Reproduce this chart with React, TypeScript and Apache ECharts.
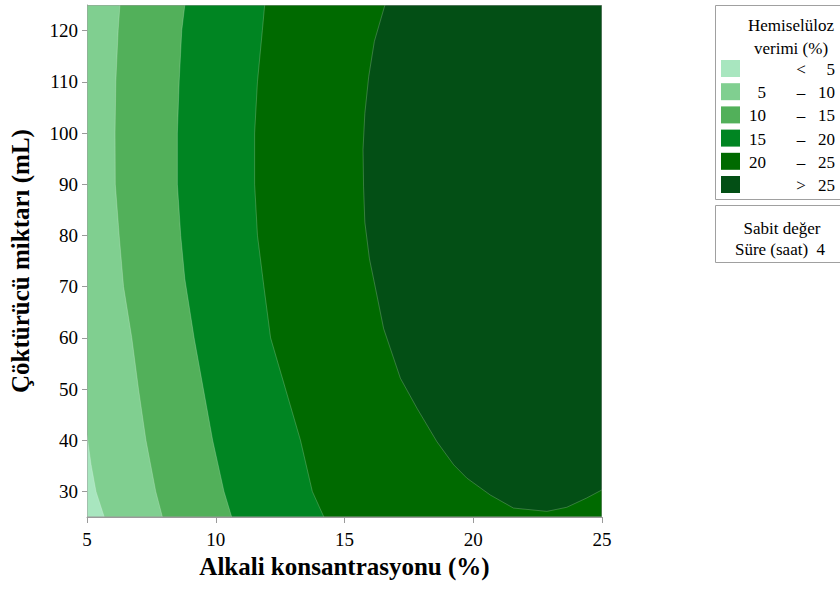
import React, { useEffect, useRef } from "react";
import * as echarts from "echarts";

const FONT = "Liberation Serif";

// axis ranges
const xMin = 5, xMax = 25, yMin = 25, yMax = 125;
const xTicks = [5, 10, 15, 20, 25];
const yTicks = [30, 40, 50, 60, 70, 80, 90, 100, 110, 120];

// contour levels and band colours (lowest band first)
const levelBounds = [5, 10, 15, 20, 25];
const bandColors = ["#a8e6bf", "#80cf90", "#52b05a", "#008522", "#006a00", "#034f15"];

// contour boundaries: [alkali %, çöktürücü mL]
const contour5 = [[5, 41.0], [5.16, 35.2], [5.35, 30], [5.67, 25]];
const contour10 = [[6.28, 125], [6.21, 120], [6.12, 110], [6.09, 100], [6.10, 90], [6.25, 80], [6.42, 70], [6.74, 60], [7.0, 50], [7.29, 40], [7.67, 30], [7.93, 25]];
const contour15 = [[8.80, 125], [8.68, 120], [8.58, 110], [8.51, 100], [8.51, 90], [8.64, 80], [8.80, 71.5], [9.16, 60], [9.52, 50], [9.88, 40], [10.32, 30], [10.62, 25]];
const contour20 = [[11.9, 125], [11.81, 120], [11.62, 110], [11.51, 100], [11.51, 90], [11.62, 80], [11.87, 70], [12.13, 60], [12.71, 50], [13.29, 40], [13.75, 30], [14.2, 25]];
const contour25 = [[16.57, 125], [16.16, 117.9], [15.94, 111], [15.79, 103.8], [15.72, 96.8], [15.74, 89.6], [15.79, 82.6], [15.97, 75.4], [16.15, 71], [16.52, 61.8], [17.17, 52.1], [17.82, 46.2], [18.59, 39.7], [19.24, 35.2], [19.75, 32.6], [20.66, 29.3], [21.56, 26.75], [22.86, 26.1], [23.63, 26.9], [24.4, 28.7], [25, 30.3]];
const contours = [contour5, contour10, contour15, contour20, contour25];

// legend texts
const legendTitle = ["Hemiselüloz", "verimi (%)"];
const holdTitle = "Sabit değer";
const holdFactor = "Süre (saat)";
const holdValue = "4";

function closePolygon(pts: number[][]) {
  const out = pts.slice();
  const first = pts[0];
  const last = pts[pts.length - 1];
  if (last[1] === yMin) out.push([xMax, yMin]);
  out.push([xMax, yMax]);
  if (first[0] === xMin) out.push([xMin, yMax]);
  return out;
}

function txt(x: number, y: number, text: string, align: string) {
  return { type: "text", x, y, style: { text, fontSize: 17, fontFamily: FONT, fill: "#000", align, verticalAlign: "middle" } };
}

function legendGraphics() {
  const els: any[] = [];
  els.push({ type: "rect", shape: { x: 715.5, y: 5.5, width: 160, height: 194 }, style: { fill: "#fff", stroke: "#a0a0a0", lineWidth: 1 } });
  legendTitle.forEach((t, i) => els.push(txt(791, 25 + i * 23.5, t, "center")));
  const n = bandColors.length;
  for (let i = 0; i < n; i++) {
    const y0 = 60 + i * 23.2;
    els.push({ type: "rect", shape: { x: 721, y: y0, width: 19, height: 17 }, style: { fill: bandColors[i] } });
    const cy = y0 + 9.5;
    const low = i === 0 || i === n - 1 ? "" : String(levelBounds[i - 1]);
    const sym = i === 0 ? "<" : i === n - 1 ? ">" : "–";
    const high = i === n - 1 ? String(levelBounds[n - 2]) : String(levelBounds[i]);
    els.push(txt(766, cy, low, "right"));
    els.push(txt(801, cy, sym, "center"));
    els.push(txt(835, cy, high, "right"));
  }
  els.push({ type: "rect", shape: { x: 715.5, y: 205.5, width: 160, height: 57 }, style: { fill: "#fff", stroke: "#a0a0a0", lineWidth: 1 } });
  els.push(txt(782, 228, holdTitle, "center"));
  els.push(txt(780, 249, holdFactor + "  " + holdValue, "center"));
  return els;
}

export default function App() {
  const ref = useRef<HTMLDivElement>(null);
  useEffect(() => {
    if (!ref.current) return;
    const chart = echarts.init(ref.current, null, { renderer: "svg" });
    const layers = [0, 1, 2, 3, 4, 5, 6];
    const axisColor = "#9a9a9a";
    chart.setOption({
      animation: false,
      backgroundColor: "#fff",
      textStyle: { fontFamily: FONT },
      grid: { left: 86, top: 5, right: 238, bottom: 72 },
      xAxis: {
        type: "value", min: xMin, max: xMax, interval: 5,
        axisLine: { show: true, lineStyle: { color: axisColor, width: 1 } },
        axisTick: { show: true, length: 6, lineStyle: { color: axisColor } },
        axisLabel: { color: "#000", fontFamily: FONT, fontSize: 19, margin: 13, showMinLabel: true, showMaxLabel: true, customValues: xTicks },
        splitLine: { show: false },
        name: "Alkali konsantrasyonu (%)", nameLocation: "middle", nameGap: 37,
        nameTextStyle: { fontFamily: FONT, fontSize: 25, fontWeight: "bold", color: "#000" },
      },
      yAxis: {
        type: "value", min: yMin, max: yMax,
        axisLine: { show: true, lineStyle: { color: axisColor, width: 1 } },
        axisTick: { show: true, length: 5, lineStyle: { color: axisColor }, customValues: yTicks },
        axisLabel: { color: "#000", fontFamily: FONT, fontSize: 19, margin: 9, customValues: yTicks },
        splitLine: { show: false },
        name: "Çöktürücü miktarı (mL)", nameLocation: "middle", nameGap: 54,
        nameTextStyle: { fontFamily: FONT, fontSize: 25, fontWeight: "bold", color: "#000" },
      },
      graphic: legendGraphics(),
      series: [
        {
          type: "custom",
          coordinateSystem: "cartesian2d",
          encode: { x: 0, y: 1 },
          silent: true,
          clip: true,
          data: layers.map((i) => [xMin, yMin, i]),
          renderItem: (params: any, api: any) => {
            const idx = params.dataIndex;
            const cs = params.coordSys;
            if (idx === 0) {
              return { type: "rect", shape: { x: cs.x, y: cs.y, width: cs.width, height: cs.height }, style: { fill: bandColors[0] } };
            }
            if (idx <= contours.length) {
              const pts = contours[idx - 1];
              const poly = closePolygon(pts).map((p) => api.coord(p));
              const line = pts.map((p) => api.coord(p));
              return {
                type: "group",
                children: [
                  { type: "polygon", shape: { points: poly }, style: { fill: bandColors[idx] } },
                  { type: "polyline", shape: { points: line }, style: { stroke: "rgba(255,255,255,0.3)", lineWidth: 0.7, fill: "none" } },
                ],
              };
            }
            return { type: "rect", shape: { x: cs.x, y: cs.y, width: cs.width, height: cs.height }, style: { fill: "none", stroke: axisColor, lineWidth: 1 } };
          },
        },
      ],
    });
    return () => chart.dispose();
  }, []);
  return <div ref={ref} style={{ position: "fixed", left: 0, top: 0, width: 840, height: 589 }} />;
}
